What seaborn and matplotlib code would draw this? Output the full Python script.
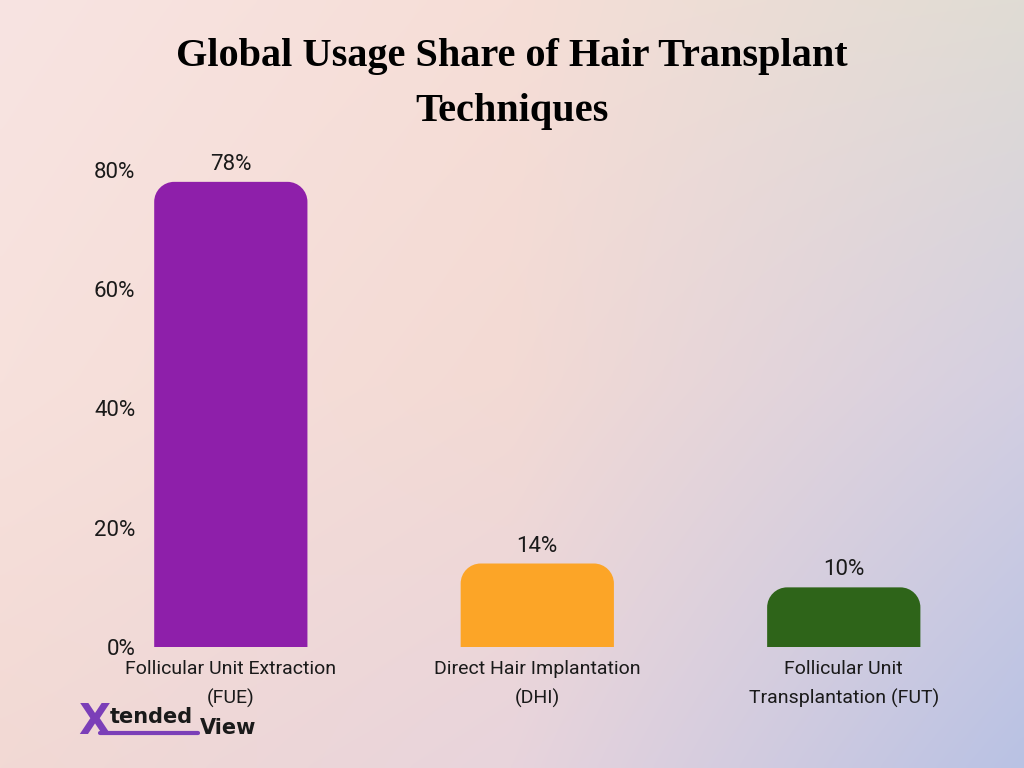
import numpy as np
import matplotlib
matplotlib.use("Agg")
import matplotlib.pyplot as plt
from matplotlib.path import Path
from matplotlib.patches import PathPatch
from matplotlib.lines import Line2D
import seaborn as sns

categories = ["Follicular Unit Extraction\n(FUE)",
              "Direct Hair Implantation\n(DHI)",
              "Follicular Unit\nTransplantation (FUT)"]
values = [78, 14, 10]
colors = ["#8E1FAA", "#FCA527", "#2E6419"]
yticks = [0, 20, 40, 60, 80]
ytick_labels = ["0%", "20%", "40%", "60%", "80%"]
title = "Global Usage Share of Hair Transplant\nTechniques"

sns.set_theme(style="white")
plt.rcParams['font.family'] = ['Roboto', 'DejaVu Sans']

W, H = 1024, 768
fig = plt.figure(figsize=(W / 100, H / 100), dpi=100)

# background gradient
bg = fig.add_axes([0, 0, 1, 1], zorder=-10)
grid = np.array([
    [[248, 228, 226], [246, 222, 215], [224, 220, 212]],
    [[247, 225, 220], [243, 218, 212], [212, 207, 225]],
    [[242, 217, 212], [232, 212, 220], [185, 194, 228]],
], dtype=float) / 255.0
ny, nx = 200, 260
yy = np.linspace(0, 2, ny)[:, None]
xx = np.linspace(0, 2, nx)[None, :]
img = np.zeros((ny, nx, 3))
for c in range(3):
    g = grid[:, :, c]
    iy = np.clip(np.floor(yy).astype(int), 0, 1)
    ix = np.clip(np.floor(xx).astype(int), 0, 1)
    fy = yy - iy
    fx = xx - ix
    v00 = g[iy, ix]; v01 = g[iy, ix + 1]; v10 = g[iy + 1, ix]; v11 = g[iy + 1, ix + 1]
    img[:, :, c] = (v00 * (1 - fy) * (1 - fx) + v01 * (1 - fy) * fx
                    + v10 * fy * (1 - fx) + v11 * fy * fx)
bg.imshow(img, aspect="auto", extent=[0, 1, 0, 1], interpolation="bicubic")
bg.axis("off")

left_px, right_px, bottom_px, top_px = 145, 997, 647, 158
ax = fig.add_axes([left_px / W, (H - bottom_px) / H,
                   (right_px - left_px) / W, (bottom_px - top_px) / H])
ax.patch.set_alpha(0)

sns.barplot(x=categories, y=values, hue=categories, palette=colors,
            legend=False, width=0.5, ax=ax, saturation=1)
ax.set_xlim(-0.28, 2.5)
ax.set_ylim(0, 82)
for s in ax.spines.values():
    s.set_visible(False)
ax.set_yticks(yticks)
ax.set_yticklabels(ytick_labels)
ax.tick_params(axis="y", length=0, pad=7, labelsize=16, labelcolor="#1a1a1a")
ax.tick_params(axis="x", length=0, pad=9, labelsize=14, labelcolor="#1a1a1a")
for lab in ax.get_xticklabels():
    lab.set_linespacing(1.75)
ax.set_xlabel("")
ax.set_ylabel("")
ax.grid(False)

# rounded top corners
fig.canvas.draw()
p0 = ax.transData.transform((0, 0))
p1 = ax.transData.transform((1, 1))
sx, sy = p1[0] - p0[0], p1[1] - p0[1]
r = 20
rx, ry = r / sx, r / sy
k = 0.5523
for cont in ax.containers:
    for patch in cont.patches:
        x0 = patch.get_x(); w = patch.get_width()
        y0 = patch.get_y(); h = patch.get_height()
        x1, y1 = x0 + w, y0 + h
        verts = [(x0, y0), (x0, y1 - ry),
                 (x0, y1 - ry + k * ry), (x0 + rx - k * rx, y1), (x0 + rx, y1),
                 (x1 - rx, y1),
                 (x1 - rx + k * rx, y1), (x1, y1 - ry + k * ry), (x1, y1 - ry),
                 (x1, y0), (x0, y0)]
        codes = [Path.MOVETO, Path.LINETO,
                 Path.CURVE4, Path.CURVE4, Path.CURVE4,
                 Path.LINETO,
                 Path.CURVE4, Path.CURVE4, Path.CURVE4,
                 Path.LINETO, Path.CLOSEPOLY]
        pp = PathPatch(Path(verts, codes), facecolor=patch.get_facecolor(),
                       edgecolor="none", zorder=patch.get_zorder())
        patch.set_visible(False)
        ax.add_patch(pp)
    ax.bar_label(cont, labels=[f"{v:g}%" for v in cont.datavalues],
                 padding=5, fontsize=16, color="#1a1a1a")

fig.text(0.5, 1 - 84 / H, title, ha="center", va="center",
         family=["Liberation Serif", "DejaVu Serif"], fontweight="bold",
         fontsize=29, linespacing=1.65, color="black")

# logo
fig.text(78 / W, 1 - 722 / H, "X", ha="left", va="center", fontsize=30,
         fontweight="heavy", color="#7B3FB8", family=["DejaVu Sans"])
fig.text(110 / W, 1 - 717 / H, "tended", ha="left", va="center", fontsize=15,
         fontweight="bold", color="#1a1a1a", family=["DejaVu Sans"])
fig.text(200 / W, 1 - 728 / H, "View", ha="left", va="center", fontsize=15,
         fontweight="bold", color="#1a1a1a", family=["DejaVu Sans"])
fig.add_artist(Line2D([100 / W, 198 / W], [1 - 733 / H, 1 - 733 / H],
                      color="#7B3FB8", lw=3, transform=fig.transFigure))

fig.savefig("out.png", dpi=100)
